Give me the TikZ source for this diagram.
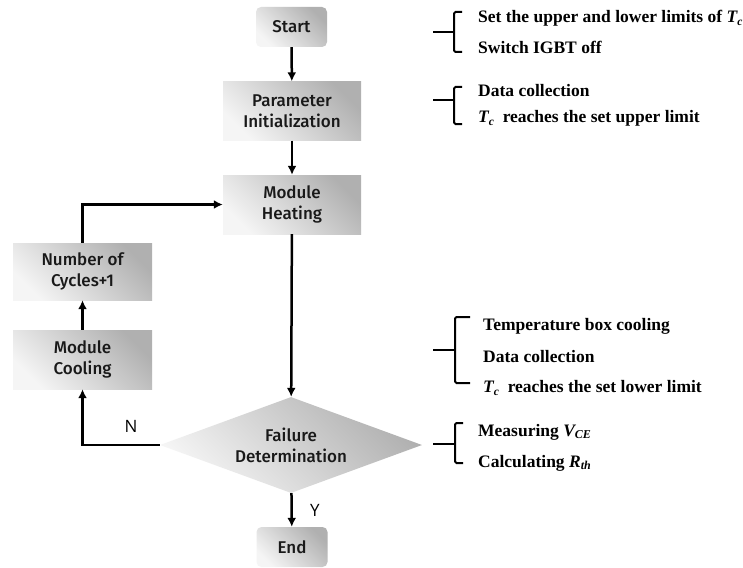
\documentclass[tikz,border=0pt]{standalone}
\usepackage{fontspec}
\setmainfont{Liberation Serif}
\newfontfamily\boxfont{Fira Sans Medium}
\newfontfamily\lblfont{Open Sans}
\usetikzlibrary{shapes.geometric,arrows.meta}
\newcommand{\Tc}{{\itshape T}\raisebox{-0.35ex}{\fontsize{11.5}{12}\selectfont\itshape c}}
\begin{document}
\begin{tikzpicture}[x=1pt,y=-1pt,
  shade/.style={top color=gray!62, bottom color=gray!8, shading angle=-45},
  box/.style={shade, minimum width=138pt, minimum height=59pt, inner sep=0pt, align=center,
    font=\boxfont\fontsize{17}{21}\selectfont, text=black!90},
  term/.style={box, minimum width=71pt, minimum height=40pt, rounded corners=5pt},
  decision/.style={shade, diamond, aspect=2.7, minimum width=262pt, minimum height=96pt, inner sep=0pt, align=center,
    font=\boxfont\fontsize{17}{21}\selectfont, text=black!90},
  flow/.style={line width=2.5pt, -{Latex[length=9pt,width=9pt]}},
  note/.style={anchor=west, font=\bfseries\fontsize{17.5}{20}\selectfont, inner sep=0pt},
  brace/.style={line width=2pt, rounded corners=1.5pt},
  lbl/.style={font=\lblfont\fontsize{17}{20}\selectfont, inner sep=0pt}]
\useasboundingbox (0,0) rectangle (743,567);
\fill[white] (0,0) rectangle (743,567);

\node[term] (start) at (291.5,27) {Start};
\node[box] (param) at (292,111) {Parameter\\Initialization};
\node[box] (heat) at (292,204.5) {Module\\Heating};
\node[box, minimum width=139pt, minimum height=57pt] (cycles) at (82.5,271.5) {Number of\\Cycles+1};
\node[box, minimum width=139pt] (cool) at (82.5,359.5) {Module\\Cooling};
\node[decision] (fail) at (291,445) {Failure\\Determination};
\node[term] (end) at (292,547) {End};

\draw[flow] (start) -- (param);
\draw[flow] (param) -- (heat);
\draw[flow] (heat) -- (fail);
\draw[flow] (fail) -- (end);
\draw[flow] (fail.west) -| (cool.south);
\draw[flow] (cool) -- (cycles);
\draw[flow] (cycles.north) |- (heat.west);
\node[lbl] (N) at (131,426) {N};
\node[lbl] (Y) at (315,510) {Y};

% annotations
\draw[brace] (462,12) -- (454,12) -- (454,52) -- (462,52);
\draw[brace] (433,32) -- (454,32);
\node[note] (a1) at (478,18) {Set the upper and lower limits of \Tc};
\node[note] (a2) at (478,47) {Switch IGBT off};

\draw[brace] (462,87) -- (454,87) -- (454,124) -- (462,124);
\draw[brace] (433,100) -- (454,100);
\node[note] (b1) at (478,91) {Data collection};
\node[note] (b2) at (478,118) {\Tc\ \ reaches the set upper limit};

\draw[brace] (470,317) -- (455,317) -- (455,383) -- (470,383);
\draw[brace] (433,350) -- (455,350);
\node[note] (c1) at (483,326) {Temperature box cooling};
\node[note] (c2) at (483,357) {Data collection};
\node[note] (c3) at (483,388) {\Tc\ \ reaches the set lower limit};

\draw[brace] (463,423) -- (455,423) -- (455,463) -- (463,463);
\draw[brace] (433,444) -- (455,444);
\node[note] (d1) at (478,432) {Measuring {\itshape V}\raisebox{-0.35ex}{\fontsize{12}{12}\selectfont\itshape CE}};
\node[note] (d2) at (478,463) {Calculating {\itshape R}\raisebox{-0.35ex}{\fontsize{12}{12}\selectfont\itshape th}};
\end{tikzpicture}
\end{document}
